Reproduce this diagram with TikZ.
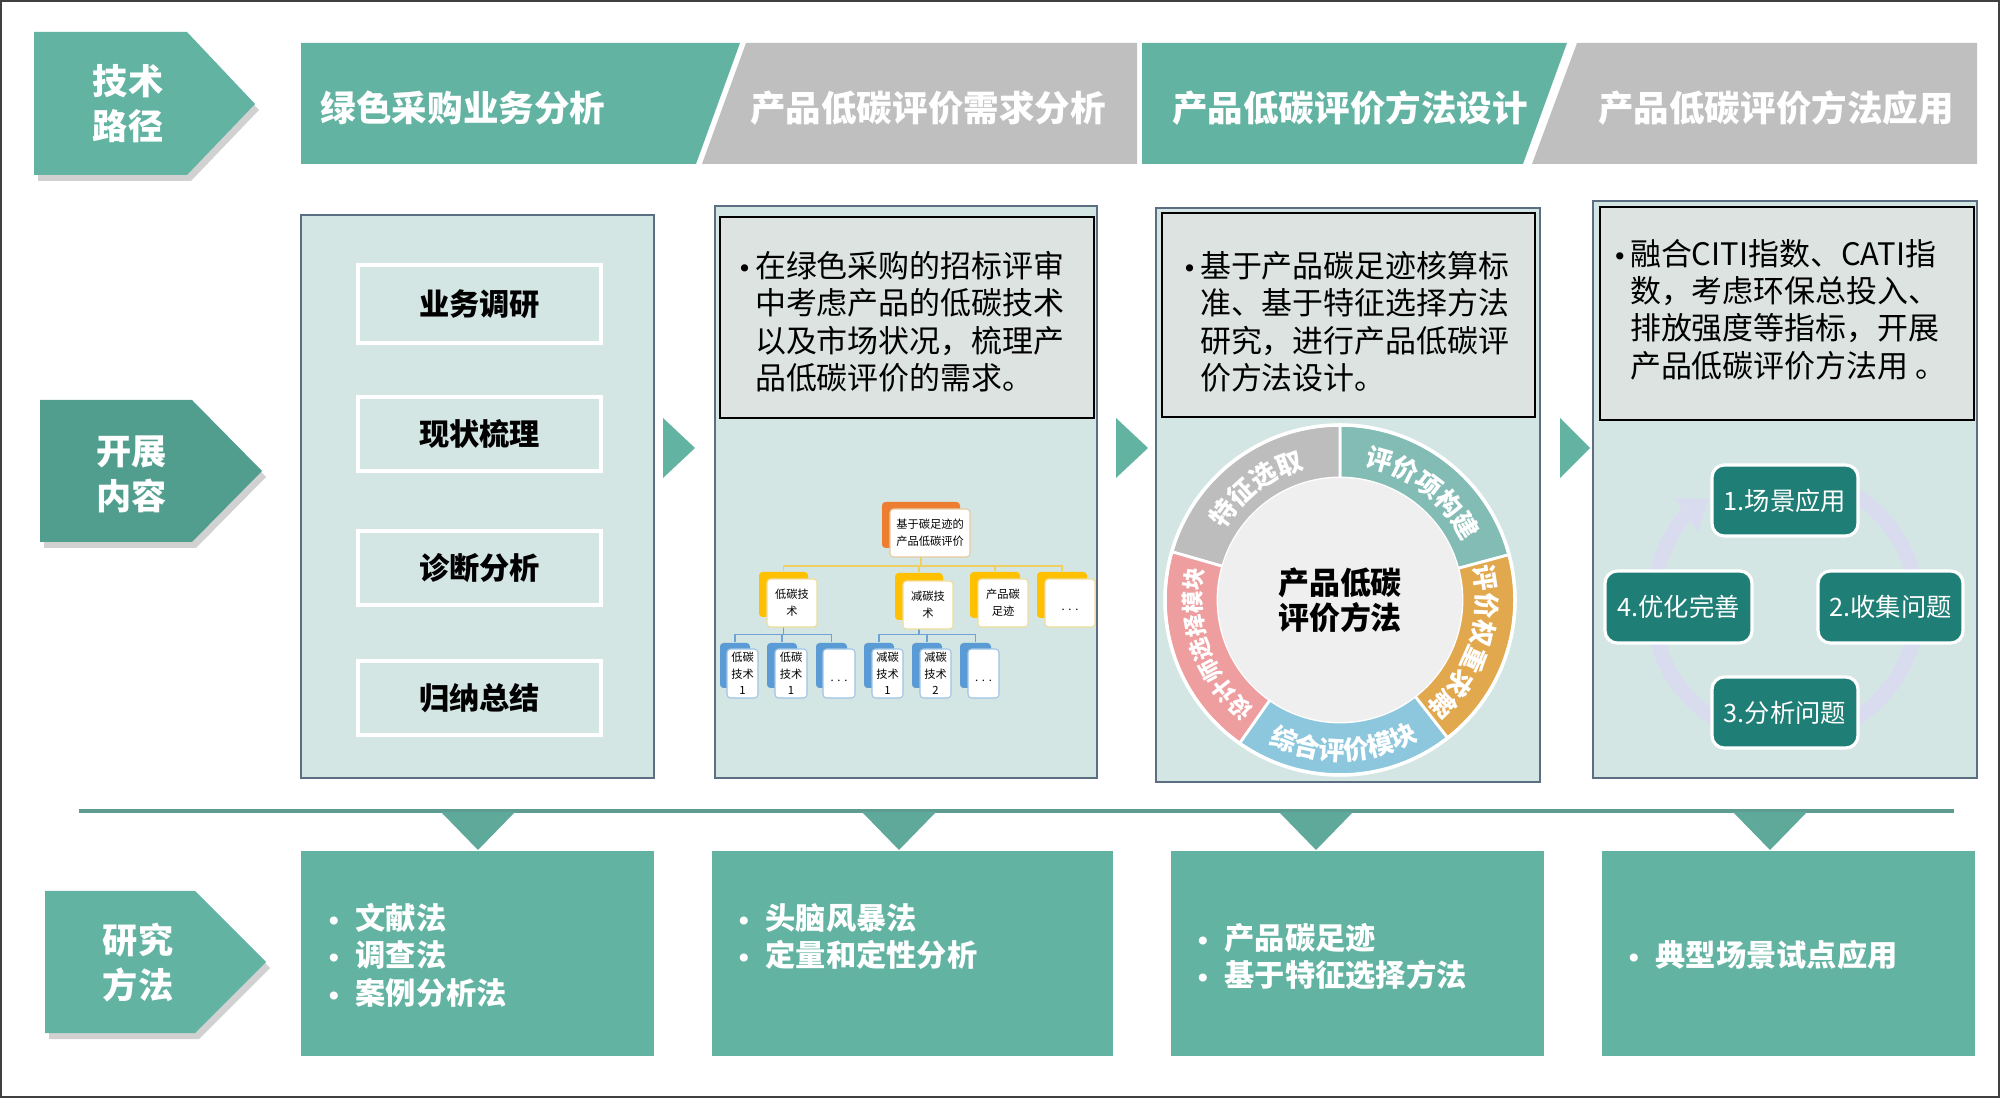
\documentclass[tikz,border=0pt]{standalone}
\usepackage{fontspec}
\setmainfont{Noto Sans CJK SC}
\newfontfamily\dejavu{DejaVu Sans}
\usetikzlibrary{decorations.text,arrows.meta,fit,calc}
\definecolor{teal1}{HTML}{62B3A2}
\definecolor{teal2}{HTML}{519E8F}
\definecolor{hgray}{HTML}{BFBFBF}
\definecolor{panelbg}{HTML}{D3E6E4}
\definecolor{panelbd}{HTML}{5C6F82}
\definecolor{tboxbg}{HTML}{DCE3E1}
\definecolor{cyc}{HTML}{1F7E75}
\definecolor{lav}{HTML}{D9DCEF}
\definecolor{ringgray}{HTML}{BDBDBD}
\definecolor{ringteal}{HTML}{83BCB4}
\definecolor{ringorange}{HTML}{E2A84E}
\definecolor{ringblue}{HTML}{8DC7DD}
\definecolor{ringpink}{HTML}{EE9E9F}
\definecolor{innergray}{HTML}{EFEFEF}
\definecolor{torange}{HTML}{ED7D31}
\definecolor{tyellow}{HTML}{FFC000}
\definecolor{tblue}{HTML}{5B9BD5}
\definecolor{tanbd}{HTML}{E8C9A0}
\definecolor{yellbd}{HTML}{F0DC9A}
\definecolor{bluebd}{HTML}{9DC3E6}
\definecolor{yline}{HTML}{EDCF62}
\definecolor{bline}{HTML}{6FA3D6}
\definecolor{linecol}{HTML}{5E9C92}
\definecolor{tricol}{HTML}{5FA99A}
\definecolor{framecol}{HTML}{404040}
\newcommand\fz[2]{\fontsize{#1}{#2}\selectfont}
\newcommand\ringfont{\fz{7.4}{8}\bfseries}
\newcommand\pinkfont{\fz{6.4}{7}\bfseries}
\newcommand\tb{\makebox[3.8pt][l]{\hspace*{-1.2pt}{\dejavu\fz{7}{7}•}}}
\newcommand\bb{\makebox[8.2pt][l]{{\dejavu\fz{6.5}{7}•}}}
\begin{document}
\begin{tikzpicture}[x=0.01cm,y=-0.01cm,
  panel/.style={draw=panelbd,fill=panelbg,line width=0.7pt,inner sep=0},
  tbox/.style={draw=black,fill=tboxbg,line width=0.8pt,inner sep=0},
  wbox/.style={draw=white,line width=0.9pt,inner sep=0},
  wtext/.style={inner sep=0,font=\fz{8.6}{10}\bfseries},
  hdtext/.style={text=white,font=\fz{10.1}{12}\bfseries,inner sep=0},
  labtext/.style={text=white,font=\fz{10}{12.8}\bfseries,align=center,inner sep=0},
  bbox/.style={fill=teal1,inner sep=0},
  btext/.style={text=white,font=\fz{8.6}{10.7}\bfseries,anchor=north west,inner sep=0},
  ttext/.style={text=black,font=\fz{8.8}{10.4},anchor=north west,inner sep=0},
  cbox/.style={fill=cyc,draw=white,line width=0.9pt,rounded corners=3.5pt,inner sep=0},
  ctext/.style={inner sep=0,text=white,font=\fz{7.2}{8}},
  rootback/.style={fill=torange,rounded corners=1pt,inner sep=0},
  rootfront/.style={fill=white,draw=tanbd,line width=0.3pt,rounded corners=1pt,inner sep=0},
  ltwoback/.style={fill=tyellow,rounded corners=1pt,inner sep=0},
  ltwofront/.style={fill=white,draw=yellbd,line width=0.3pt,rounded corners=1pt,inner sep=0},
  lthreeback/.style={fill=tblue,rounded corners=1pt,inner sep=0},
  lthreefront/.style={fill=white,draw=bluebd,line width=0.3pt,rounded corners=1pt,inner sep=0},
  treetext/.style={inner sep=0,align=center,font=\fz{3.2}{4.8}},
  treetextb/.style={inner sep=0,align=center,font=\fz{3.2}{4.7}},
  yconn/.style={draw=yline,line width=0.5pt},
  bconn/.style={draw=bline,line width=0.4pt},
  shadowfill/.style={fill=black,opacity=0.18}
]
\useasboundingbox (0,0) rectangle (2000,1098);
\fill[white] (0,0) rectangle (2000,1098);
\draw[framecol,line width=0.7pt] (1,1) rectangle (1999,1097);

% ---------- left labels ----------
\fill[shadowfill] (38,38) -- (191,38) -- (259,110) -- (191,181) -- (38,181) -- cycle;
\fill[teal1] (34,32) -- (187,32) -- (255,104) -- (187,175) -- (34,175) -- cycle;
\node[labtext] (lab1) at (128,104) {技术\\路径};

\fill[shadowfill] (44,406) -- (196,406) -- (266,477) -- (196,548) -- (44,548) -- cycle;
\fill[teal2] (40,400) -- (192,400) -- (262,471) -- (192,542) -- (40,542) -- cycle;
\node[labtext] (lab2) at (132,474) {开展\\内容};

\fill[shadowfill] (49,897) -- (199,897) -- (270,968) -- (199,1039) -- (49,1039) -- cycle;
\fill[teal1] (45,891) -- (195,891) -- (266,962) -- (195,1033) -- (45,1033) -- cycle;
\node[labtext] (lab3) at (138,963) {研究\\方法};

% ---------- header bands ----------
\fill[teal1] (301,43) -- (740,43) -- (696,164) -- (301,164) -- cycle;
\fill[hgray] (746,43) -- (1137,43) -- (1137,164) -- (702,164) -- cycle;
\fill[teal1] (1142,43) -- (1567,43) -- (1523,164) -- (1142,164) -- cycle;
\fill[hgray] (1577,43) -- (1977,43) -- (1977,164) -- (1532,164) -- cycle;
\node[hdtext] (h1) at (463,108) {绿色采购业务分析};
\node[hdtext] (h2) at (928,108) {产品低碳评价需求分析};
\node[hdtext] (h3) at (1350,108) {产品低碳评价方法设计};
\node[hdtext] (h4) at (1776,108) {产品低碳评价方法应用};

% ---------- panels ----------
\node[panel,fit={(301,215)(654,778)}] (p1) {};
\node[panel,fit={(715,206)(1097,778)}] (p2) {};
\node[panel,fit={(1156,208)(1540,782)}] (p3) {};
\node[panel,fit={(1593,201)(1977,778)}] (p4) {};

\fill[teal1] (663,418) -- (695,448) -- (663,478) -- cycle;
\fill[teal1] (1116,418) -- (1148,448) -- (1116,478) -- cycle;
\fill[teal1] (1560,418) -- (1590,448) -- (1560,478) -- cycle;

% panel 1 boxes
\node[wbox,fit={(358,265)(601,343)}] (w1) {};
\node[wbox,fit={(358,397)(601,471)}] (w2) {};
\node[wbox,fit={(358,531)(601,605)}] (w3) {};
\node[wbox,fit={(358,661)(601,735)}] (w4) {};
\node[wtext] (w1t) at (w1.center) {业务调研};
\node[wtext] (w2t) at (w2.center) {现状梳理};
\node[wtext] (w3t) at (w3.center) {诊断分析};
\node[wtext] (w4t) at (w4.center) {归纳总结};

% text boxes
\node[tbox,fit={(720,217)(1094,418)}] (tb2) {};
\node[tbox,fit={(1162,213)(1535,417)}] (tb3) {};
\node[tbox,fit={(1600,207)(1974,420)}] (tb4) {};
\node[ttext] (tt2) at (741,251) {\begin{tabular}{@{}l@{}l@{}}\tb&在绿色采购的招标评审\\&中考虑产品的低碳技术\\&以及市场状况，梳理产\\&品低碳评价的需求。\end{tabular}};
\node[ttext] (tt3) at (1186,251) {\begin{tabular}{@{}l@{}l@{}}\tb&基于产品碳足迹核算标\\&准、基于特征选择方法\\&研究，进行产品低碳评\\&价方法设计。\end{tabular}};
\node[ttext] (tt4) at (1616,239) {\begin{tabular}{@{}l@{}l@{}}\tb&融合CITI指数、CATI指\\&数，考虑环保总投入、\\&排放强度等指标，开展\\&产品低碳评价方法用 。\end{tabular}};

% ---------- tree (panel 2) ----------
\node[rootback,fit={(882,502)(960,548)}] (rb) {};
\node[ltwoback,fit={(759,572)(808,617)}] (ab) {};
\node[ltwoback,fit={(895,573)(943,620)}] (bb) {};
\node[ltwoback,fit={(970,572)(1020,618)}] (cb) {};
\node[ltwoback,fit={(1037,572)(1087,618)}] (db) {};
\node[lthreeback,fit={(720,643)(750,688)}] (a1b) {};
\node[lthreeback,fit={(767,643)(797,688)}] (a2b) {};
\node[lthreeback,fit={(816,643)(847,688)}] (a3b) {};
\node[lthreeback,fit={(864,643)(894,688)}] (b1b) {};
\node[lthreeback,fit={(912,643)(942,688)}] (b2b) {};
\node[lthreeback,fit={(960,643)(991,688)}] (b3b) {};
\foreach \n in {ab,bb,cb,db} \draw[yconn] (rb.south) -- ++(0,17) -| (\n.north);
\foreach \n in {a1b,a2b,a3b} \draw[bconn] (ab.south) -- ++(0,17) -| (\n.north);
\foreach \n in {b1b,b2b,b3b} \draw[bconn] (bb.south) -- ++(0,14) -| (\n.north);
\node[rootfront,fit={(890,509)(970,557)}] (rf) {};
\node[ltwofront,fit={(767,579)(817,627)}] (af) {};
\node[ltwofront,fit={(903,581)(953,629)}] (bf) {};
\node[ltwofront,fit={(978,579)(1028,627)}] (cf) {};
\node[ltwofront,fit={(1045,579)(1095,627)}] (df) {};
\node[lthreefront,fit={(727,649)(758,698)}] (a1f) {};
\node[lthreefront,fit={(775,649)(807,698)}] (a2f) {};
\node[lthreefront,fit={(823,649)(855,698)}] (a3f) {};
\node[lthreefront,fit={(872,649)(903,698)}] (b1f) {};
\node[lthreefront,fit={(920,649)(951,698)}] (b2f) {};
\node[lthreefront,fit={(968,649)(999,698)}] (b3f) {};
\node[treetext] (rft) at (rf.center) {基于碳足迹的\\产品低碳评价};
\node[treetext] (aft) at (af.center) {低碳技\\术};
\node[treetext] (bft) at (bf.center) {减碳技\\术};
\node[treetext] (cft) at (cf.center) {产品碳\\足迹};
\node[treetext] (dft) at ([yshift=-2pt]df.center) {.\,\,.\,\,.};
\node[treetextb] (a1t) at (a1f.center) {低碳\\技术\\1};
\node[treetextb] (a2t) at (a2f.center) {低碳\\技术\\1};
\node[treetextb] (a3t) at ([yshift=-2pt]a3f.center) {.\,\,.\,\,.};
\node[treetextb] (b1t) at (b1f.center) {减碳\\技术\\1};
\node[treetextb] (b2t) at (b2f.center) {减碳\\技术\\2};
\node[treetextb] (b3t) at ([yshift=-2pt]b3f.center) {.\,\,.\,\,.};

% ---------- ring (panel 3) ----------
\begin{scope}[shift={(1340,600)},x=0.01cm,y=0.01cm]
\foreach \a/\b/\c in {15/90/ringteal,90/164/ringgray,164/235/ringpink,235/308/ringblue,308/375/ringorange}
  \filldraw[fill=\c,draw=white,line width=0.8pt] (\a:175) arc[start angle=\a,end angle=\b,radius=175] -- (\b:122) arc[start angle=\b,end angle=\a,radius=122] -- cycle;
\draw[white,line width=1pt] (0,0) circle[radius=175];
\node[circle,fill=innergray,minimum size=69.4pt,inner sep=0] (ctr) at (0,0) {};
\node[inner sep=0,align=center,font=\fz{8.8}{10}\bfseries] (ctrt) at (ctr.center) {产品低碳\\评价方法};
\path[decorate,decoration={text along path,text={|\ringfont|特征选取},text align=center,text color=white}] (164:136) arc[start angle=164,end angle=90,radius=136];
\path[decorate,decoration={text along path,text={|\ringfont|评价项构建},text align=center,text color=white}] (90:136) arc[start angle=90,end angle=15,radius=136];
\path[decorate,decoration={text along path,text={|\ringfont|评价权重求解},text align=center,text color=white}] (15:137) arc[start angle=15,end angle=-52,radius=137];
\path[decorate,decoration={text along path,text={|\ringfont|综合评价模块},text align=center,text color=white}] (235:160) arc[start angle=235,end angle=308,radius=160];
\path[decorate,decoration={text along path,text={|\pinkfont|设计师选择模块},text align=center,text color=white}] (235:139) arc[start angle=235,end angle=164,radius=139];
\end{scope}

% ---------- cycle (panel 4) ----------
\begin{scope}[shift={(1785,607)},x=0.01cm,y=0.01cm]
\draw[lav,line width=4.2pt,-{Triangle[width=11pt,length=8pt]}] (90:132) arc[start angle=90,end angle=-235,radius=132];
\end{scope}
\node[cbox,fit={(1712,465)(1858,536)}] (c1) {};
\node[cbox,fit={(1818,571)(1963,643)}] (c2) {};
\node[cbox,fit={(1712,677)(1858,748)}] (c3) {};
\node[cbox,fit={(1605,571)(1752,643)}] (c4) {};
\node[ctext] (c1t) at (c1.center) {1.场景应用};
\node[ctext] (c2t) at (c2.center) {2.收集问题};
\node[ctext] (c3t) at (c3.center) {3.分析问题};
\node[ctext] (c4t) at (c4.center) {4.优化完善};

% ---------- bottom row ----------
\coordinate (lineL) at (79,811);
\coordinate (lineR) at (1954,811);
\draw[linecol,line width=0.9pt] (lineL) -- (lineR);
\foreach \cx in {478,899,1316,1770}
  \fill[tricol] (\cx-37,812) -- (\cx+37,812) -- (\cx,850) -- cycle;
\node[bbox,fit={(301,851)(654,1056)}] (b1) {};
\node[bbox,fit={(712,851)(1113,1056)}] (b2) {};
\node[bbox,fit={(1171,851)(1544,1056)}] (b3) {};
\node[bbox,fit={(1602,851)(1975,1056)}] (b4) {};
\node[btext] (bt1) at (326,902) {\begin{tabular}{@{}l@{}l@{}}\bb&文献法\\\bb&调查法\\\bb&案例分析法\end{tabular}};
\node[btext] (bt2) at (736,902) {\begin{tabular}{@{}l@{}l@{}}\bb&头脑风暴法\\\bb&定量和定性分析\end{tabular}};
\node[btext] (bt3) at (1195,922) {\begin{tabular}{@{}l@{}l@{}}\bb&产品碳足迹\\\bb&基于特征选择方法\end{tabular}};
\node[btext] (bt4) at (1626,939) {\begin{tabular}{@{}l@{}l@{}}\bb&典型场景试点应用\end{tabular}};
\end{tikzpicture}
\end{document}
